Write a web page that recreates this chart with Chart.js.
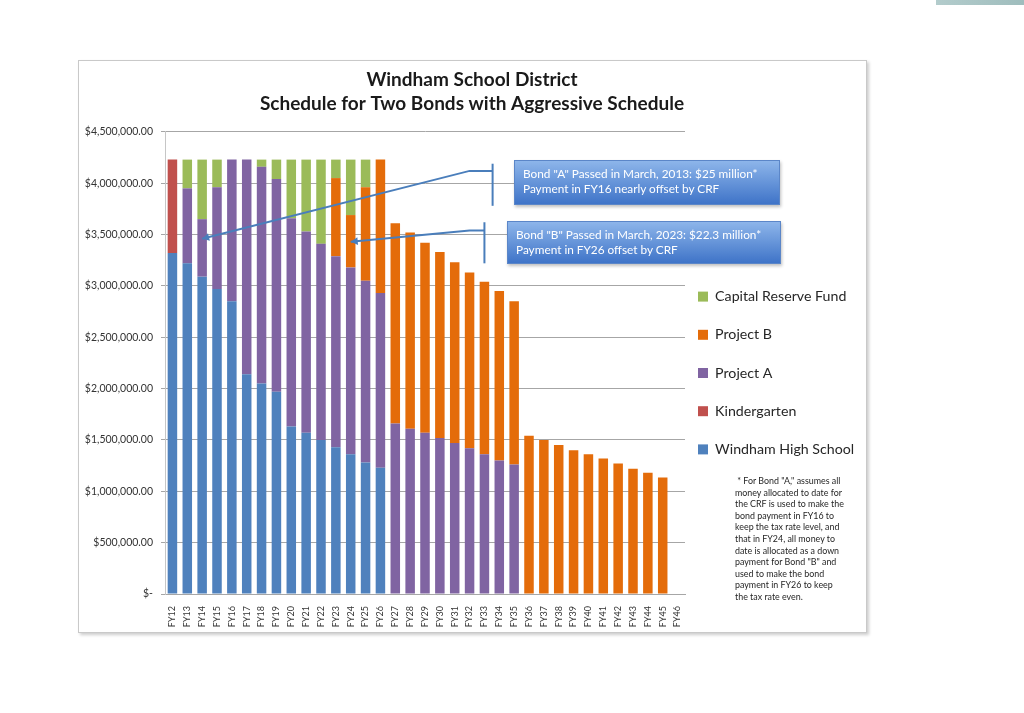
<!DOCTYPE html>
<html>
<head>
<meta charset="utf-8">
<title>Windham School District</title>
<script src="https://cdn.jsdelivr.net/npm/chart.js@4.4.1/dist/chart.umd.min.js"></script>
<style>
  body { margin: 0; background: #fff; font-family: Lato, 'Open Sans', sans-serif; }
  .frame { position: absolute; left: 78px; top: 60px; width: 787px; height: 571px; border: 1px solid #c9c9c9; box-shadow: 2px 2px 3px rgba(0,0,0,0.2); }
  .chartBox { position: absolute; left: 78px; top: 60px; width: 788px; height: 572px; }
  .callout { position: absolute; color: #fff; font-size: 11.8px; line-height: 15px; padding: 5px 8px; box-sizing: border-box;
    background: linear-gradient(#8db5ea, #3f74c8); border: 1px solid #5b86c8; box-shadow: 1px 2px 3px rgba(0,0,0,0.25); }
  .note { position: absolute; left: 735px; top: 475px; width: 130px; font-size: 8.9px; line-height: 11.6px; color: #1f1f1f; }
  .corner { position: absolute; left: 936px; top: 0; width: 88px; height: 5px; background: linear-gradient(90deg, #b3cccc, #9fbdbd); }
</style>
</head>
<body>
<div class="corner"></div>
<div class="frame"></div>
<div class="chartBox"><canvas id="bondChart"></canvas></div>
<div class="callout" style="left:514px; top:160px; width:266px; height:45px;">Bond "A" Passed in March, 2013: $25 million*<br>Payment in FY16 nearly offset by CRF</div>
<div class="callout" style="left:507px; top:221px; width:274px; height:43px;">Bond "B" Passed in March, 2023: $22.3 million*<br>Payment in FY26 offset by CRF</div>
<div class="note">&nbsp;* For Bond "A," assumes all<br>money allocated to date for<br>the CRF is used to make the<br>bond payment in FY16 to<br>keep the tax rate level, and<br>that in FY24, all money to<br>date is allocated as a down<br>payment for Bond "B" and<br>used to make the bond<br>payment in FY26 to keep<br>the tax rate even.</div>
<script>
const years = ['FY12', 'FY13', 'FY14', 'FY15', 'FY16', 'FY17', 'FY18', 'FY19', 'FY20', 'FY21',
  'FY22', 'FY23', 'FY24', 'FY25', 'FY26', 'FY27', 'FY28', 'FY29', 'FY30', 'FY31',
  'FY32', 'FY33', 'FY34', 'FY35', 'FY36', 'FY37', 'FY38', 'FY39', 'FY40', 'FY41',
  'FY42', 'FY43', 'FY44', 'FY45', 'FY46'];

const highSchool = [3320000, 3220000, 3090000, 2970000, 2850000, 2140000, 2050000, 1970000, 1630000, 1570000,
  1500000, 1430000, 1360000, 1280000, 1230000, 0, 0, 0, 0, 0,
  0, 0, 0, 0, 0, 0, 0, 0, 0, 0,
  0, 0, 0, 0, 0];
const kindergarten = [910000, 0, 0, 0, 0, 0, 0, 0, 0, 0,
  0, 0, 0, 0, 0, 0, 0, 0, 0, 0,
  0, 0, 0, 0, 0, 0, 0, 0, 0, 0,
  0, 0, 0, 0, 0];
const projectA = [0, 730000, 560000, 990000, 1380000, 2090000, 2110000, 2070000, 2030000, 1960000,
  1910000, 1860000, 1820000, 1770000, 1700000, 1660000, 1610000, 1570000, 1520000, 1470000,
  1420000, 1360000, 1300000, 1260000, 0, 0, 0, 0, 0, 0,
  0, 0, 0, 0, 0];
const projectB = [0, 0, 0, 0, 0, 0, 0, 0, 0, 0,
  0, 760000, 510000, 910000, 1300000, 1950000, 1910000, 1850000, 1810000, 1760000,
  1710000, 1680000, 1650000, 1590000, 1540000, 1500000, 1450000, 1400000, 1360000, 1320000,
  1270000, 1220000, 1180000, 1135000, 0];
const reserveFund = [0, 280000, 580000, 270000, 0, 0, 70000, 190000, 570000, 700000,
  820000, 180000, 540000, 270000, 0, 0, 0, 0, 0, 0,
  0, 0, 0, 0, 0, 0, 0, 0, 0, 0,
  0, 0, 0, 0, 0];

const yMax = 4500000;
const yStep = 500000;

// leader lines from the two callout boxes (category index / dollar value)
const leaders = [
  { tip: [2, 3460000], elbow: [20, 4120000], bar: [21.55, 4190000, 3780000] },
  { tip: [12, 3430000], elbow: [20, 3540000], bar: [21.0, 3620000, 3220000] },
];

Chart.defaults.font.family = 'Lato, "Open Sans", sans-serif';
Chart.defaults.color = '#333';

// custom plugin: pin legend width and nudge it next to the plot
const legendPlace = {
  id: 'legendPlace',
  beforeLayout(chart) {
    const lg = chart.legend;
    if (lg && !lg._pinned) {
      const fit = lg.fit;
      lg.fit = function () { fit.call(this); this.width = 181; };
      lg._pinned = true;
    }
  },
  afterLayout(chart) {
    const lg = chart.legend;
    lg.left = chart.chartArea.right - 11;
    lg.width = 220;
    lg.right = lg.left + 220;
    lg.top += 27;
    lg.bottom += 27;
  }
};

// custom plugin: draw the callout leader lines
const leaderLines = {
  id: 'leaderLines',
  afterDatasetsDraw(chart) {
    const ctx = chart.ctx;
    const x = chart.scales.x;
    const y = chart.scales.y;
    ctx.save();
    ctx.strokeStyle = '#4a7ebb';
    ctx.fillStyle = '#4a7ebb';
    ctx.lineWidth = 2;
    leaders.forEach((l) => {
      const tx = x.getPixelForValue(l.tip[0]);
      const ty = y.getPixelForValue(l.tip[1]);
      const ex = x.getPixelForValue(l.elbow[0]);
      const ey = y.getPixelForValue(l.elbow[1]);
      const bx = x.getPixelForValue(l.bar[0]);
      ctx.beginPath();
      ctx.moveTo(tx, ty);
      ctx.lineTo(ex, ey);
      ctx.lineTo(bx, ey);
      ctx.stroke();
      ctx.beginPath();
      ctx.moveTo(bx, y.getPixelForValue(l.bar[1]));
      ctx.lineTo(bx, y.getPixelForValue(l.bar[2]));
      ctx.stroke();
      // arrow head
      const ang = Math.atan2(ty - ey, tx - ex);
      ctx.beginPath();
      ctx.moveTo(tx, ty);
      ctx.lineTo(tx - 8 * Math.cos(ang - 0.5), ty - 8 * Math.sin(ang - 0.5));
      ctx.lineTo(tx - 8 * Math.cos(ang + 0.5), ty - 8 * Math.sin(ang + 0.5));
      ctx.closePath();
      ctx.fill();
    });
    ctx.restore();
  }
};

function money(v) {
  if (v === 0) return '$-';
  return '$' + v.toLocaleString('en-US', { minimumFractionDigits: 2, maximumFractionDigits: 2 });
}

const ctx = document.getElementById('bondChart').getContext('2d');
new Chart(ctx, {
  type: 'bar',
  data: {
    labels: years,
    datasets: [
      { label: 'Windham High School', data: highSchool, backgroundColor: '#4f81bd' },
      { label: 'Kindergarten', data: kindergarten, backgroundColor: '#c0504d' },
      { label: 'Project A', data: projectA, backgroundColor: '#8064a2' },
      { label: 'Project B', data: projectB, backgroundColor: '#e46c0a' },
      { label: 'Capital Reserve Fund', data: reserveFund, backgroundColor: '#9bbb59' },
    ],
  },
  options: {
    responsive: true,
    maintainAspectRatio: false,
    animation: false,
    layout: { padding: { left: 0, right: 0, top: 0, bottom: 0 } },
    datasets: { bar: { barPercentage: 0.64, categoryPercentage: 1.0 } },
    plugins: {
      title: {
        display: true,
        text: ['Windham School District', 'Schedule for Two Bonds with Aggressive Schedule'],
        color: '#1a1a1a',
        font: { size: 19, weight: 'bold', lineHeight: 1.26 },
        padding: { top: 8, bottom: 16 },
      },
      legend: {
        display: true,
        position: 'right',
        align: 'center',
        reverse: true,
        labels: {
          boxWidth: 10,
          boxHeight: 10,
          padding: 24,
          color: '#262626',
          font: { size: 14.2 },
        },
      },
      tooltip: { enabled: false },
    },
    scales: {
      x: {
        stacked: true,
        grid: { display: false },
        border: { color: '#a6a6a6' },
        ticks: { minRotation: 90, maxRotation: 90, autoSkip: false, font: { size: 9 }, padding: 4, color: '#333' },
        afterFit: (scale) => { scale.height = 38; },
      },
      y: {
        stacked: true,
        min: 0,
        max: yMax,
        grid: { color: '#a6a6a6', tickLength: 4, drawTicks: true },
        border: { color: '#c6c6c6' },
        ticks: { stepSize: yStep, callback: money, font: { size: 10.5 }, padding: 8, color: '#333' },
        afterFit: (scale) => { scale.width = 87; },
      },
    },
  },
  plugins: [legendPlace, leaderLines],
});
</script>
</body>
</html>
